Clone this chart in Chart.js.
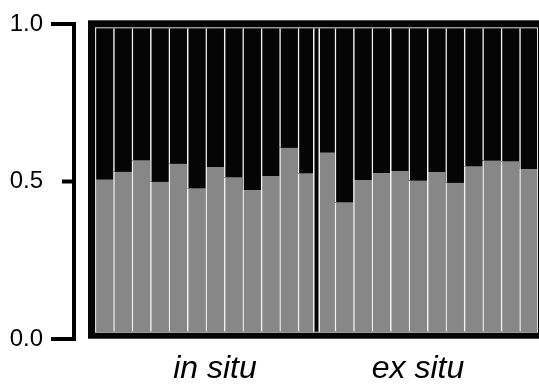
<!DOCTYPE html>
<html>
<head>
<meta charset="utf-8">
<script src="https://cdn.jsdelivr.net/npm/chart.js@4/dist/chart.umd.min.js"></script>
<style>
  html, body { margin:0; padding:0; background:#fff; overflow:hidden; }
  .chart_wrap { position:relative; width:539px; height:385px; }
</style>
</head>
<body>
<div class="chart_wrap"><canvas id="structure-chart"></canvas></div>
<script>
  // 그룹 이름
  const groups = ['in situ', 'ex situ'];
  // 개체별 회색 클러스터 비율 (나머지는 검은색)
  const inSituGray = [0.502, 0.527, 0.565, 0.494, 0.554, 0.473, 0.543, 0.509, 0.467, 0.513, 0.606, 0.522];
  const exSituGray = [0.591, 0.427, 0.500, 0.523, 0.530, 0.498, 0.526, 0.491, 0.545, 0.564, 0.562, 0.536];
  // y축 눈금
  const yTicks = [0, 0.5, 1];

  const grayData = inSituGray.concat(exSituGray);
  const blackData = grayData.map(v => 1 - v);
  const labels = grayData.map((v, i) => i < inSituGray.length ? 'IS' + (i + 1) : 'ES' + (i - inSituGray.length + 1));
  const groupLabelAt = [6, inSituGray.length + 5];

  // 검은 테두리, 그룹 구분선, 왼쪽 축
  const framePlugin = {
    id: 'frame',
    beforeDatasetsDraw(chart) {
      const {ctx, chartArea} = chart;
      const yb = chart.scales.yBar;
      const top = yb.getPixelForValue(1), bottom = yb.getPixelForValue(0);
      ctx.save();
      ctx.fillStyle = '#050505';
      ctx.fillRect(chartArea.left - 7, top - 8, chartArea.right - chartArea.left + 14, bottom - top + 15);
      ctx.restore();
    },
    afterDatasetsDraw(chart) {
      const {ctx, chartArea} = chart;
      const yb = chart.scales.yBar, x = chart.scales.x;
      const top = yb.getPixelForValue(1), bottom = yb.getPixelForValue(0);
      ctx.save();
      ctx.strokeStyle = '#d9d9d9';
      ctx.lineWidth = 1;
      ctx.strokeRect(chartArea.left + 0.5, top - 0.5, chartArea.right - chartArea.left - 1, bottom - top + 1);

      const mid = (x.getPixelForValue(inSituGray.length - 1) + x.getPixelForValue(inSituGray.length)) / 2;
      ctx.fillStyle = '#f2f2f2';
      ctx.fillRect(mid - 3.5, top, 7, bottom - top);
      ctx.fillStyle = '#050505';
      ctx.fillRect(mid - 2, top, 4, bottom - top);
      ctx.restore();
    },
    afterDraw(chart) {
      const ctx = chart.ctx;
      const y = chart.scales.y;
      const ax = 74;
      ctx.save();
      ctx.strokeStyle = '#000';
      ctx.lineWidth = 4;
      ctx.beginPath();
      ctx.moveTo(ax, y.getPixelForValue(yTicks[yTicks.length - 1]) - 2);
      ctx.lineTo(ax, y.getPixelForValue(yTicks[0]) + 2);
      ctx.stroke();
      yTicks.forEach(v => {
        const len = v === 0.5 ? 12 : 23;
        const py = y.getPixelForValue(v);
        ctx.beginPath();
        ctx.moveTo(ax - len, py);
        ctx.lineTo(ax, py);
        ctx.stroke();
      });
      ctx.restore();
    }
  };

  const content = document.getElementById('structure-chart');

  new Chart(content, {
    type: 'bar',
    data: {
      labels: labels,
      datasets: [
        {
          label: 'gray',
          data: grayData,
          yAxisID: 'yBar',
          backgroundColor: '#878787',
          borderColor: '#f2f2f2',
          borderWidth: {left: 1.5, top: 0, right: 0, bottom: 0},
          borderSkipped: false
        }, {
          label: 'black',
          data: blackData,
          yAxisID: 'yBar',
          backgroundColor: '#050505',
          borderColor: '#f2f2f2',
          borderWidth: {left: 1.5, top: 0, right: 0, bottom: 0},
          borderSkipped: false
        }
      ]
    },
    options: {
      responsive: true,
      maintainAspectRatio: false,
      animation: false,
      categoryPercentage: 1,
      barPercentage: 1,
      layout: { autoPadding: false, padding: { top: 24, right: 1, left: 0, bottom: 0 } },
      plugins: {
        legend: { display: false },
        tooltip: { enabled: false }
      },
      scales: {
        x: {
          stacked: true,
          grid: { display: false, drawTicks: false },
          border: { display: false },
          ticks: {
            autoSkip: false,
            maxRotation: 0,
            padding: 11,
            color: '#000',
            font: { family: 'Liberation Sans, Arial, sans-serif', size: 32, style: 'italic' },
            callback: (v, i) => {
              const g = groupLabelAt.indexOf(i);
              return g < 0 ? '' : groups[g];
            }
          },
          afterFit: s => {
            s.height = 46;
            s.paddingLeft = 0;
            s.paddingRight = 0;
          }
        },
        y: {
          min: 0,
          max: 1,
          grid: { display: false, drawTicks: false },
          border: { display: false },
          afterBuildTicks: s => { s.ticks = yTicks.map(v => ({value: v})); },
          ticks: {
            padding: 52,
            color: '#000',
            font: { family: 'Liberation Sans, Arial, sans-serif', size: 24 },
            callback: v => v.toFixed(1)
          },
          afterFit: s => {
            s.width = 95;
            s.paddingTop = 0;
            s.paddingBottom = 0;
          }
        },
        yBar: {
          stacked: true,
          display: false,
          min: -0.024,
          max: 1.0142
        }
      }
    },
    plugins: [framePlugin]
  });
</script>
</body>
</html>
